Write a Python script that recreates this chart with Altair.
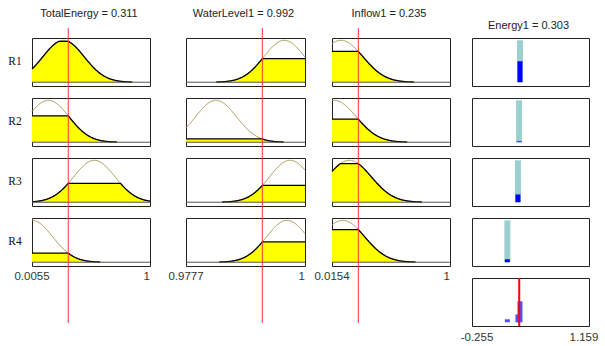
import numpy as np
import pandas as pd
import altair as alt

# ---------------- data ----------------
input_names = ["TotalEnergy", "WaterLevel1", "Inflow1"]
input_values = [0.311, 0.992, 0.235]
input_lo = [0.0055, 0.9777, 0.0154]
input_hi = [1.0, 1.0, 1.0]
input_lo_labels = ["0.0055", "0.9777", "0.0154"]
input_hi_labels = ["1", "1", "1"]
rule_labels = ["R1", "R2", "R3", "R4"]

# gaussian membership functions (centre per rule, width per input)
mf_centers_total = [0.271, 0.143, 0.531, 0.0055]
mf_centers_water = [0.99612, 0.98332, 0.99719, 0.99663]
mf_centers_inflow = [0.0905, 0.0346, 0.1598, 0.1047]
mf_centers = [mf_centers_total, mf_centers_water, mf_centers_inflow]
mf_sigmas = [0.1745, 0.00384, 0.1836]

output_name = "Energy1"
output_value = 0.303
output_lo = -0.255
output_hi = 1.159
output_lo_label = "-0.255"
output_hi_label = "1.159"
rule_outputs = [0.313, 0.301, 0.286, 0.146]
rule_weights = [0.50, 0.02, 0.185, 0.07]

# ---------------- layout / style ----------------
IN_W = [118, 119, 118]
OUT_W = 117
GAPS = [36, 27, 22]
H = 48
YDOM = [-0.09, 1.055]
FONT = "Liberation Sans"
ysc = alt.Scale(domain=YDOM, nice=False, zero=False)


def blank(w):
    return (
        alt.Chart(pd.DataFrame({"a": [0]}))
        .mark_rule(opacity=0)
        .encode(x=alt.value(0), y=alt.value(0), y2=alt.value(1))
        .properties(width=w, height=H, view=alt.ViewBackground(strokeOpacity=0))
    )


def input_panel(i, r):
    lo, hi = input_lo[i], input_hi[i]
    c, s, v = mf_centers[i][r], mf_sigmas[i], input_values[i]
    xs = np.linspace(lo, hi, 241)
    mf = np.exp(-((xs - c) ** 2) / (2 * s * s))
    mu = float(np.exp(-((v - c) ** 2) / (2 * s * s)))
    fill = np.minimum(mf, mu)
    df = pd.DataFrame({"x": xs, "mf": mf, "fill": fill})
    xsc = alt.Scale(domain=[lo, hi], nice=False, zero=False)
    X = alt.X("x:Q", scale=xsc, axis=None)
    base = alt.Chart(df)
    layers = [
        base.mark_area(color="#ffff00").encode(
            x=X, y=alt.Y("fill:Q", scale=ysc, axis=None), y2=alt.datum(0)
        ),
        base.transform_filter("datum.mf > 0.004")
        .mark_line(color="#9d9648", strokeWidth=1)
        .encode(x=X, y=alt.Y("mf:Q", scale=ysc, axis=None)),
        base.transform_filter("datum.fill > 0.004")
        .mark_line(color="#000000", strokeWidth=1.3)
        .encode(x=X, y=alt.Y("fill:Q", scale=ysc, axis=None)),
        alt.Chart(pd.DataFrame({"y": [0.0]}))
        .mark_rule(color="#555555", strokeWidth=1)
        .encode(y=alt.Y("y:Q", scale=ysc, axis=None)),
    ]
    top = -10 if r == 0 else 0
    bottom = 105 if r == 3 else H + 12
    layers.append(
        alt.Chart(pd.DataFrame({"v": [v]}))
        .mark_rule(color="#ff3333", strokeWidth=1)
        .encode(x=alt.X("v:Q", scale=xsc, axis=None), y=alt.value(top), y2=alt.value(bottom))
    )
    if r == 0:
        layers.append(
            alt.Chart(pd.DataFrame({"x": [(lo + hi) / 2], "t": [f"{input_names[i]} = {v:.3f}"]}))
            .mark_text(font=FONT, fontSize=11, color="#222222", baseline="alphabetic", dx=-2)
            .encode(x=alt.X("x:Q", scale=xsc, axis=None), y=alt.value(-21), text="t:N")
        )
    if i == 0:
        layers.append(
            alt.Chart(pd.DataFrame({"t": [rule_labels[r]]}))
            .mark_text(font="Liberation Serif", fontSize=11.5, color="#111111", baseline="middle")
            .encode(x=alt.value(-17), y=alt.value(H / 2), text="t:N")
        )
    if r == 3:
        layers.append(
            alt.Chart(pd.DataFrame({"x": [lo], "t": [input_lo_labels[i]]}))
            .mark_text(font=FONT, fontSize=11.5, color="#333333", baseline="alphabetic", align="center")
            .encode(x=alt.X("x:Q", scale=xsc, axis=None), y=alt.value(62), text="t:N")
        )
        layers.append(
            alt.Chart(pd.DataFrame({"x": [hi], "t": [input_hi_labels[i]]}))
            .mark_text(font=FONT, fontSize=11.5, color="#333333", baseline="alphabetic", align="right")
            .encode(x=alt.X("x:Q", scale=xsc, axis=None), y=alt.value(62), text="t:N")
        )
    return alt.layer(*layers).properties(width=IN_W[i], height=H)


out_xsc = alt.Scale(domain=[output_lo, output_hi], nice=False, zero=False)


def output_panel(r):
    df = pd.DataFrame({"x": [rule_outputs[r]], "w": [rule_weights[r]], "one": [1.0]})
    X = alt.X("x:Q", scale=out_xsc, axis=None)
    layers = [
        alt.Chart(df).mark_bar(color="#9ccfcf", size=6).encode(
            x=X, y=alt.Y("one:Q", scale=ysc, axis=None), y2=alt.datum(0)
        ),
        alt.Chart(df).mark_bar(color="#0000ff", size=5).encode(
            x=X, y=alt.Y("w:Q", scale=ysc, axis=None), y2=alt.datum(0)
        ),
    ]
    if r == 0:
        layers.append(
            alt.Chart(pd.DataFrame({"x": [(output_lo + output_hi) / 2], "t": [f"{output_name} = {output_value:.3f}"]}))
            .mark_text(font=FONT, fontSize=11, color="#222222", baseline="alphabetic", dx=-2)
            .encode(x=alt.X("x:Q", scale=out_xsc, axis=None), y=alt.value(-9), text="t:N")
        )
    return alt.layer(*layers).properties(width=OUT_W, height=H)


def aggregate_panel():
    df = pd.DataFrame({"x": rule_outputs, "w": rule_weights})
    X = alt.X("x:Q", scale=out_xsc, axis=None)
    layers = [
        alt.Chart(df).mark_bar(color="#5050ff", size=5).encode(
            x=X, y=alt.Y("w:Q", scale=ysc, axis=None), y2=alt.datum(0)
        ),
        alt.Chart(pd.DataFrame({"v": [output_value]}))
        .mark_rule(color="#ff0000", strokeWidth=2)
        .encode(x=alt.X("v:Q", scale=out_xsc, axis=None)),
        alt.Chart(pd.DataFrame({"x": [output_lo, output_hi], "t": [output_lo_label, output_hi_label]}))
        .mark_text(font=FONT, fontSize=11.5, color="#333333", baseline="alphabetic", align="center")
        .encode(x=alt.X("x:Q", scale=out_xsc, axis=None), y=alt.value(63), text="t:N"),
    ]
    return alt.layer(*layers).properties(width=OUT_W, height=H)


cells = []
for r in range(4):
    for i in range(3):
        cells.append(input_panel(i, r))
        cells.append(blank(GAPS[i]))
    cells.append(output_panel(r))
for i in range(3):
    cells.append(blank(IN_W[i]))
    cells.append(blank(GAPS[i]))
cells.append(aggregate_panel())

chart = (
    alt.concat(*cells, columns=7, spacing={"row": 12, "column": 0}, bounds="flush")
    .properties(padding={"left": 7, "top": 7, "right": 2, "bottom": 2}, background="white")
    .configure_view(stroke="#222222", strokeWidth=1)
)

chart.save("out.html", embed_options={"renderer": "svg", "actions": False})
